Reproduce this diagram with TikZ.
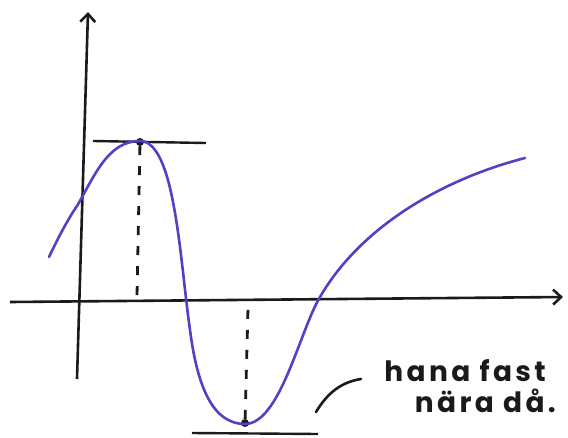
\documentclass[tikz,border=0pt]{standalone}
\usepackage{fontspec}
\newfontfamily\handfont[LetterSpace=12]{Poppins}
\usepackage{tikz}
\usetikzlibrary{positioning, arrows.meta, calc}
\definecolor{curvePurple}{HTML}{5B3CC4}
\definecolor{inkBlack}{HTML}{1A1A1A}

\begin{document}
\begin{tikzpicture}[x=1pt, y=-1pt,
    axis/.style={line width=2.6pt, color=inkBlack, -{Straight Barb[length=8pt, width=15pt, line width=2.6pt]}},
    graph/.style={line width=2.6pt, color=curvePurple, line cap=round},
    tangent/.style={line width=2.4pt, color=inkBlack},
    guide/.style={line width=2.8pt, color=inkBlack, dash pattern=on 9pt off 11pt},
    pt/.style={circle, fill=inkBlack, inner sep=0pt, minimum size=8pt},
    note/.style={font=\handfont\bfseries\fontsize{28}{30}\selectfont, color=inkBlack, inner sep=0pt, anchor=base east},
]
\useasboundingbox (0,0) rectangle (568,437);
% axes
\coordinate (yb) at (77,379);
\coordinate (yt) at (88,12);
\coordinate (xl) at (10,302);
\coordinate (xr) at (563,297);
\draw[axis] (yb)--(yt);
\draw[axis] (xl)--(xr);
% extreme points and their feet on the x-axis
\node[pt] (top) at (140,142) {};
\node[pt] (bot) at (245,423) {};
\coordinate (topfoot) at (137,296);
\coordinate (botfoot) at (248,308);
\draw[guide] (top)--(topfoot);
\draw[guide] (bot)--(botfoot);
% horizontal tangents
\coordinate (ta) at (93,141); \coordinate (tb) at (206,143);
\coordinate (ba) at (192,433); \coordinate (bb) at (318,434);
\draw[tangent] (ta)--(tb);
\draw[tangent] (ba)--(bb);
% the curve
\draw[graph] (49,257) .. controls (58,238) and (68,219) .. (77,206)
    .. controls (95,175) and (108,141) .. (140,141)
    .. controls (175,141) and (180,260) .. (190,330)
    .. controls (198,392) and (215,424) .. (245,424)
    .. controls (280,424) and (300,330) .. (320,297)
    .. controls (360,228) and (440,180) .. (525,158);
% remark
\node[note] (note1) at (546,381) {hana fast};
\node[note] (note2) at (556,412) {nära då.};
\coordinate (lead) at (316,412);
\draw[line width=2.6pt, color=inkBlack, line cap=round] (lead) .. controls (328,392) and (342,382) .. (361,379);
\end{tikzpicture}
\end{document}
